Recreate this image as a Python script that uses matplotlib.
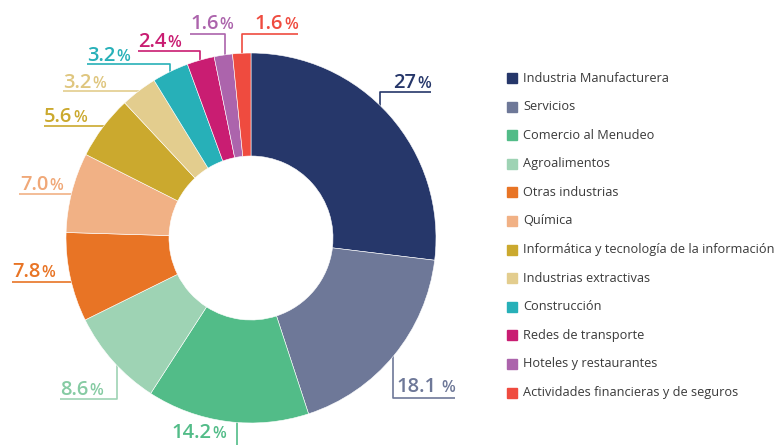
import matplotlib
matplotlib.use('Agg')
import matplotlib.pyplot as plt
from matplotlib.patches import Rectangle

plt.rcParams['font.family'] = ['Open Sans', 'DejaVu Sans']

W, H = 781, 445

# data
sectors = ['Industria Manufacturera', 'Servicios', 'Comercio al Menudeo',
           'Agroalimentos', 'Otras industrias', 'Química',
           'Informática y tecnología de la información', 'Industrias extractivas',
           'Construcción', 'Redes de transporte', 'Hoteles y restaurantes',
           'Actividades financieras y de seguros']
shares = [27, 18.1, 14.2, 8.6, 7.8, 7.0, 5.6, 3.2, 3.2, 2.4, 1.6, 1.6]
share_labels = ['27', '18.1', '14.2', '8.6', '7.8', '7.0', '5.6', '3.2', '3.2', '2.4', '1.6', '1.6']
colors = ['#26376A', '#6E7898', '#52BC88', '#9ED3B4', '#E87425', '#F1B185',
          '#CBA92E', '#E3CD8E', '#27B0B8', '#C91D72', '#AC64AC', '#EF4B3F']
text_colors = ['#26376A', '#6E7898', '#52BC88', '#86CBA3', '#E87425', '#F0A878',
               '#CBA92E', '#DFC67F', '#27B0B8', '#C91D72', '#AC64AC', '#EF4B3F']

# label layout in image pixels (y down): leader path, text x, baseline y, alignment
leaders = [
    ([(380, 112), (380, 92), (431, 92)], 431, 88, 'right'),
    ([(393, 350), (393, 398), (455, 398)], 455, 392, 'right'),
    ([(237, 410), (237, 450)], 226, 438, 'right'),
    ([(117, 355), (117, 399), (60, 399)], 60, 395, 'left'),
    ([(85, 282), (12, 282)], 12, 277, 'left'),
    ([(85, 194), (19, 194)], 20, 190, 'left'),
    ([(115, 126), (44, 126)], 44, 122, 'left'),
    ([(148, 91), (63, 91)], 63, 88, 'left'),
    ([(170, 78), (170, 64), (87, 64)], 87, 61, 'left'),
    ([(200, 68), (200, 51), (138, 51)], 138, 47, 'left'),
    ([(225, 62), (225, 34), (190, 34)], 190, 29, 'left'),
    ([(242, 62), (242, 34), (298, 34)], 298, 29, 'right'),
]

fig = plt.figure(figsize=(W / 100, H / 100), dpi=100)
ax = fig.add_axes([0, 0, 1, 1])

# donut
wedges, _ = ax.pie(shares, colors=colors, startangle=90, counterclock=False,
                   center=(251, H - 238), radius=185,
                   wedgeprops=dict(width=103, edgecolor='white', linewidth=0.4))
for w in wedges:
    w.set_zorder(3)

ax.set_xlim(0, W)
ax.set_ylim(0, H)
ax.set_aspect('equal')
ax.axis('off')

r = fig.canvas.get_renderer()

# leader lines and value labels
for (path, tx, ty, ha), lab, c, tc in zip(leaders, share_labels, colors, text_colors):
    xs = [p[0] for p in path]
    ys = [H - p[1] for p in path]
    ax.plot(xs, ys, color=c, lw=1.2, zorder=1, solid_capstyle='butt')
    t1 = ax.text(0, H - ty, lab, color=tc, fontsize=14.5, fontweight='semibold', va='baseline')
    t2 = ax.text(0, H - ty, '%', color=tc, fontsize=11.5, fontweight='semibold', va='baseline')
    w1 = t1.get_window_extent(r).width
    w2 = t2.get_window_extent(r).width
    gap = 5 if lab == '18.1' else 1
    x0 = tx if ha == 'left' else tx - w1 - gap - w2
    t1.set_x(x0)
    t2.set_x(x0 + w1 + gap)

# legend
for i, (name, c) in enumerate(zip(sectors, colors)):
    yc = H - (78 + i * 28.6)
    ax.add_patch(Rectangle((507, yc - 5), 10, 10, color=c))
    ax.text(523, yc, name, fontsize=9.2, color='#3a3a3a', va='center', ha='left')

fig.savefig('out.png', dpi=100)
